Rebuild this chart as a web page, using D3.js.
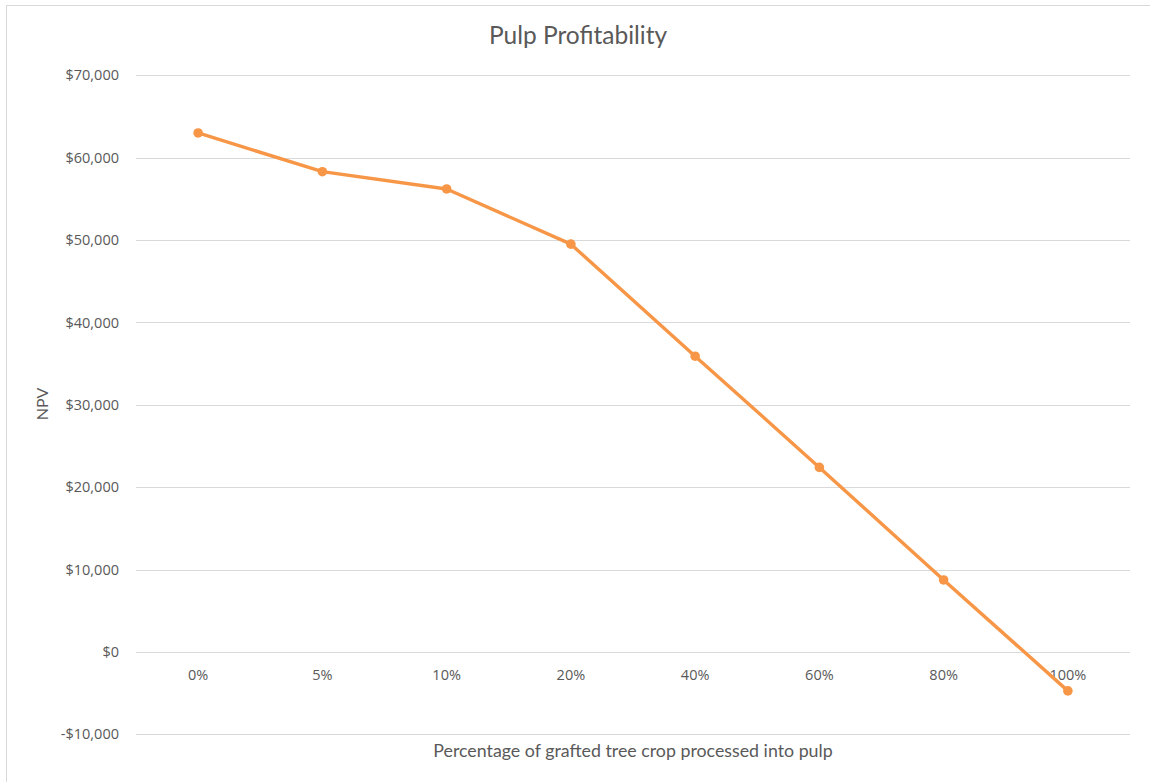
<!DOCTYPE html>
<html>
<head>
<meta charset="utf-8">
<script src="https://cdn.jsdelivr.net/npm/d3@7"></script>
<style>
  html, body { margin: 0; padding: 0; background: #fff; }
  svg { display: block; font-family: Lato, "Open Sans", sans-serif; }
</style>
</head>
<body>
<svg id="chart" width="1150" height="782"></svg>
<script>
const categories = ["0%", "5%", "10%", "20%", "40%", "60%", "80%", "100%"];
const npvValues = [63000, 58300, 56200, 49500, 35900, 22400, 8740, -4730];
const yTicks = [-10000, 0, 10000, 20000, 30000, 40000, 50000, 60000, 70000];
const chartTitle = "Pulp Profitability";
const xTitle = "Percentage of grafted tree crop processed into pulp";
const yTitle = "NPV";

const svg = d3.select("#chart");
const W = 1150, H = 782;

// chart border (top + left visible)
svg.append("rect")
  .attr("x", 6.5).attr("y", 5.5)
  .attr("width", W + 20).attr("height", H + 20)
  .attr("fill", "#fff").attr("stroke", "#d9d9d9").attr("stroke-width", 1);

const x = d3.scaleBand().domain(categories).range([136, 1130]);
const y = d3.scaleLinear().domain([-10000, 70000]).range([734.3, 75.3]);

const fmt = v => (v < 0 ? "-$" : "$") + d3.format(",")(Math.abs(v));
const tickFont = "'Open Sans', sans-serif";

// gridlines
svg.append("g").selectAll("line").data(yTicks).join("line")
  .attr("x1", 136).attr("x2", 1130)
  .attr("y1", d => Math.round(y(d)) + 0.5).attr("y2", d => Math.round(y(d)) + 0.5)
  .attr("stroke", "#d9d9d9").attr("stroke-width", 1);

// y axis labels
const yAxis = d3.axisLeft(y).tickValues(yTicks).tickFormat(fmt).tickSize(0).tickPadding(17);
const gy = svg.append("g").attr("transform", "translate(136,0)").call(yAxis);
gy.select(".domain").remove();
gy.selectAll("text").attr("fill", "#595959").style("font-size", "14.5px").style("font-family", tickFont);

// x axis labels
const xAxis = d3.axisBottom(x).tickSize(0).tickPadding(0);
const gx = svg.append("g").attr("transform", `translate(0,${y(0)})`).call(xAxis);
gx.select(".domain").remove();
gx.selectAll("text").attr("fill", "#595959").attr("dy", null).attr("y", 28)
  .style("font-size", "14.5px").style("font-family", tickFont);

// line
const line = d3.line().x((d, i) => x(categories[i]) + x.bandwidth() / 2).y(d => y(d));
svg.append("path").datum(npvValues)
  .attr("d", line).attr("fill", "none")
  .attr("stroke", "#f79646").attr("stroke-width", 3.4).attr("stroke-linejoin", "round");

svg.append("g").selectAll("circle").data(npvValues).join("circle")
  .attr("cx", (d, i) => x(categories[i]) + x.bandwidth() / 2)
  .attr("cy", d => y(d)).attr("r", 4.8).attr("fill", "#f79646");

// titles
svg.append("text").attr("x", 578).attr("y", 44).attr("text-anchor", "middle")
  .attr("fill", "#595959").style("font-size", "24.5px").text(chartTitle);

svg.append("text").attr("x", 633).attr("y", 757).attr("text-anchor", "middle")
  .attr("fill", "#595959").style("font-size", "17.8px").text(xTitle);

svg.append("text").attr("transform", "translate(48,404) rotate(-90)").attr("text-anchor", "middle")
  .attr("fill", "#595959").style("font-size", "16px").text(yTitle);
</script>
</body>
</html>
